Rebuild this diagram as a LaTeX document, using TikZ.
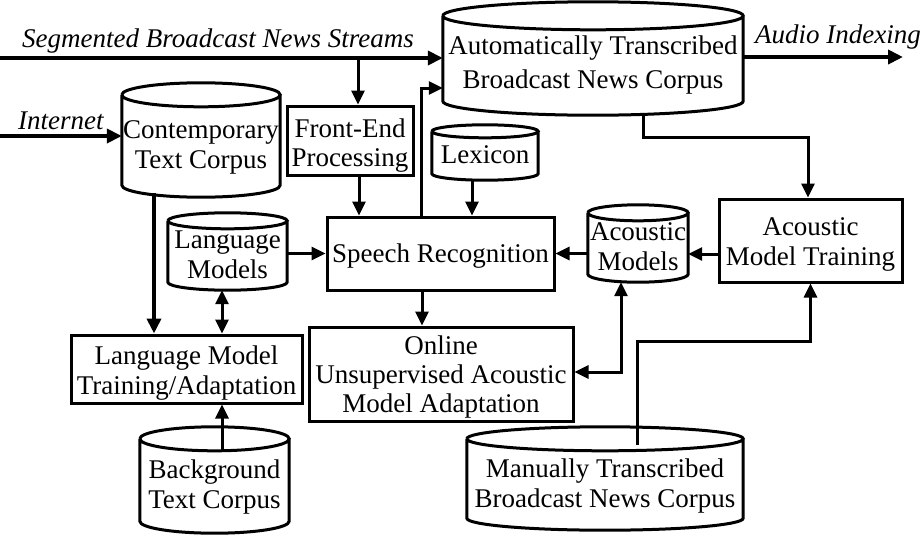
\documentclass[tikz,border=0pt]{standalone}
\usepackage{fontspec}
\setmainfont{Liberation Serif}
\usetikzlibrary{arrows.meta,calc}
\tikzset{
  outline/.style={draw, line width=3pt},
  box/.style={outline, rectangle, inner sep=0pt, align=center, text depth=0pt},
  cyl/.style={rectangle, inner sep=0pt, align=center, text depth=0pt},
  conn/.style={line width=3pt, -{Triangle[length=14pt,width=13pt]}},
  bconn/.style={line width=3pt, {Triangle[length=14pt,width=13pt]}-{Triangle[length=14pt,width=13pt]}},
  heavy/.style={line width=4.5pt, -{Triangle[length=15pt,width=14pt]}},
  lbl/.style={font=\fontsize{27}{30}\selectfont\itshape, inner sep=0pt, anchor=base west},
}
\newcommand\drawcyl[2]{%
  \draw[outline] let \p1=(#1.north west), \p2=(#1.south east), \n1={(\x2-\x1)/2} in
    (\x1,\y1-#2pt) arc[start angle=180, end angle=-180, x radius=\n1, y radius=#2pt]
    (\x1,\y1-#2pt) -- (\x1,\y2+#2pt) arc[start angle=180, end angle=360, x radius=\n1, y radius=#2pt] -- (\x2,\y1-#2pt);}
\begin{document}
\begin{tikzpicture}[x=1pt,y=1pt,font=\fontsize{27}{30}\selectfont]
\useasboundingbox (0,0) rectangle (922,-536);
% cylinders
\node[cyl, minimum width=300pt, minimum height=113pt, text height=60pt, font=\fontsize{27}{34}\selectfont] (atb) at (593,-58.5) {Automatically Transcribed\\Broadcast News Corpus};
\node[cyl, minimum width=158pt, minimum height=114pt, text height=56pt] (ctc) at (201,-140) {Contemporary\\Text Corpus};
\node[cyl, minimum width=106pt, minimum height=55pt, text height=21pt] (lex) at (485,-152.5) {Lexicon};
\node[cyl, minimum width=119pt, minimum height=77pt, text height=54pt] (lm) at (227.5,-251.5) {Language\\Models};
\node[cyl, minimum width=100pt, minimum height=77pt, text height=53pt] (am) at (638,-243.5) {Acoustic\\Models};
\node[cyl, minimum width=276pt, minimum height=103pt, text height=57pt] (mtb) at (605,-478.5) {Manually Transcribed\\Broadcast News Corpus};
\node[cyl, minimum width=149pt, minimum height=106pt, text height=56pt] (btc) at (214.5,-480) {Background\\Text Corpus};
\drawcyl{atb}{14}
\drawcyl{ctc}{12}
\drawcyl{lex}{6.5}
\drawcyl{lm}{8}
\drawcyl{am}{8}
\drawcyl{mtb}{12}
\drawcyl{btc}{12}
% boxes
\node[box, minimum width=126pt, minimum height=69pt, text height=51pt, font=\fontsize{27}{29}\selectfont] (fep) at (350,-140.5) {Front-End\\Processing};
\node[box, minimum width=227pt, minimum height=73pt, text height=18pt] (sr) at (440.5,-253.5) {Speech Recognition};
\node[box, minimum width=264pt, minimum height=94pt, text height=76pt, font=\fontsize{27}{29}\selectfont] (oua) at (441,-374) {Online\\Unsupervised Acoustic\\Model Adaptation};
\node[box, minimum width=231pt, minimum height=68pt, text height=50pt] (lmt) at (186.5,-369) {Language Model\\Training/Adaptation};
\node[box, minimum width=183pt, minimum height=83pt, text height=49pt] (amt) at (810.5,-240.5) {Acoustic\\Model Training};
% labels
\node[lbl] (segl) at (22,-47) {Segmented Broadcast News Streams};
\node[lbl] (audl) at (755,-43) {Audio Indexing};
\node[lbl] (inetl) at (18,-129) {Internet};
\coordinate (segin) at (0,-58);
\coordinate (audout) at (903,-57);
\coordinate (inetin) at (0,-136);
% connectors
\draw[heavy] (segin) -- (segin -| atb.west);
\draw[conn] ([xshift=8pt]fep.north |- segin) -- ([xshift=8pt]fep.north);
\draw[heavy] (audout -| atb.east) -- (audout);
\draw[heavy] (inetin) -- (inetin -| ctc.west);
\draw[heavy] ([xshift=-47pt,yshift=4pt]ctc.south) -- ([xshift=-47pt]ctc.south |- lmt.north);
\draw[conn] ([xshift=9pt]fep.south) -- ([xshift=9pt]fep.south |- sr.north);
\draw[conn] ([xshift=-13pt,yshift=1pt]lex.south) -- ([xshift=-13pt]lex.south |- sr.north);
\draw[conn] ([xshift=-19.5pt]sr.north) |- ([yshift=-29.5pt]atb.west);
\draw[conn] (lm.east |- sr.west) -- (sr.west);
\draw[bconn] ([xshift=-5.5pt]lm.south) -- ([xshift=-5.5pt]lm.south |- lmt.north);
\draw[conn] ([xshift=7.5pt,yshift=-23pt]btc.north) -- ([xshift=7.5pt]btc.north |- lmt.south);
\draw[conn] ([xshift=-18.5pt]sr.south) -- ([xshift=-18.5pt]sr.south |- oua.north);
\draw[conn] (sr.east -| am.west) -- (sr.east);
\draw[conn] ([yshift=-13.5pt]amt.west) -- ([yshift=-13.5pt]amt.west -| am.east);
\draw[bconn] ([xshift=-17pt]am.south) |- ([yshift=2pt]oua.east);
\draw[conn] ([xshift=50pt]atb.south) -- ++(0,-22) -| ([xshift=-2.5pt]amt.north);
\draw[conn] ([xshift=32pt,yshift=-18pt]mtb.north) -- ++(0,103) -| (amt.south);
\end{tikzpicture}
\end{document}
